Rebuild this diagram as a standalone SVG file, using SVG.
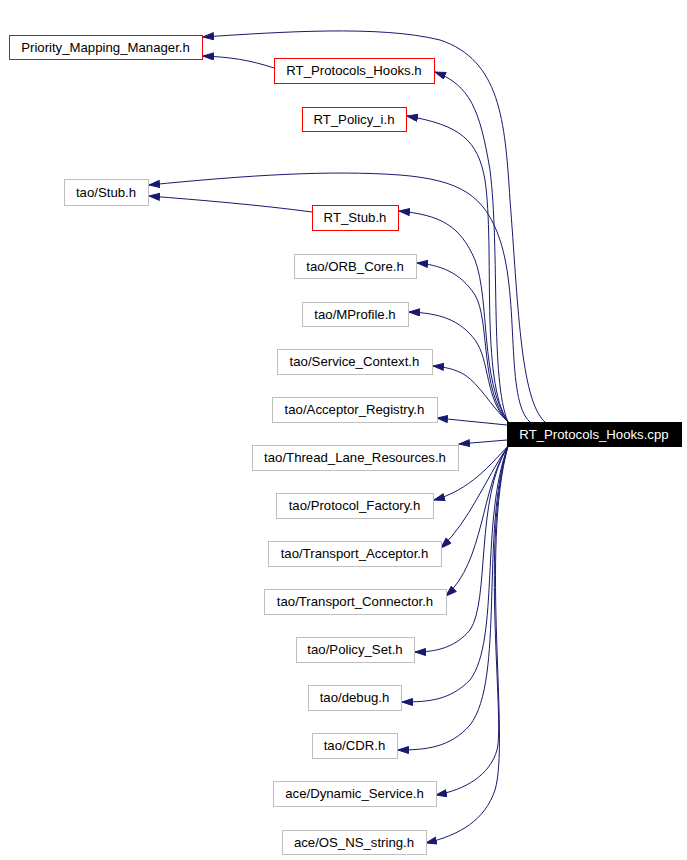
<svg xmlns="http://www.w3.org/2000/svg" width="687" height="860" viewBox="0 0 687 860">
<style>
.n rect{fill:#fff;stroke:#bfbfbf;stroke-width:1;shape-rendering:crispEdges}
.n.r rect{stroke:#ff0000}
.n text{font-family:"Liberation Sans",Arial,sans-serif;font-size:13.2px;fill:#000;text-anchor:middle}
#cpp rect{fill:#000;stroke:#000}
#cpp text{fill:#fff}
.e path{fill:none;stroke:#191970;stroke-width:1;marker-end:url(#ah)}
</style>
<defs>
<marker id="ah" markerUnits="userSpaceOnUse" markerWidth="12" markerHeight="9" refX="11" refY="4" orient="auto">
<path d="M0.5,0.5 L11,4 L0.5,7.5 z" fill="#191970" stroke="#191970"/>
</marker>
</defs>
<rect width="687" height="860" fill="#fff"/>
<g id="connectors" class="e">
<path d="M545,422 C520,400 518,300 510,200 C505,120 500,60 440,40 C380,25 280,32 203,37"/>
<path d="M274,68 C250,60 230,57 203,56"/>
<path d="M508,422 C490,380 500,250 490,170 C480,110 470,85 435,72"/>
<path d="M508,422 C480,380 495,250 485,180 C478,140 460,125 407,116"/>
<path d="M530,422 C505,400 520,300 500,240 C485,195 460,180 400,175 C330,170 250,175 149,185"/>
<path d="M312,212 C260,205 200,200 149,196"/>
<path d="M508,422 C480,380 490,300 475,260 C460,225 440,215 399,211"/>
<path d="M508,422 C480,390 490,320 475,295 C460,272 440,265 417,263"/>
<path d="M508,422 C485,400 490,360 475,340 C460,320 440,313 409,312"/>
<path d="M508,422 C490,405 480,385 465,375 C455,369 445,367 433,366"/>
<path d="M507,425 L437,418"/>
<path d="M507,440 L459,444"/>
<path d="M508,446 C490,465 470,490 434,500"/>
<path d="M508,446 C485,480 470,520 441,548"/>
<path d="M508,446 C480,490 485,560 446,596"/>
<path d="M508,446 C475,500 490,600 470,630 C455,648 435,652 415,652"/>
<path d="M508,446 C480,520 500,640 470,680 C450,700 430,702 402,702"/>
<path d="M508,446 C480,530 505,680 470,725 C450,748 425,750 398,750"/>
<path d="M508,446 C480,540 505,720 497,750 C490,775 465,790 436,795"/>
<path d="M508,446 C480,550 510,740 495,790 C485,820 460,835 426,843"/>
</g>
<g id="cpp" class="n"><rect x="507" y="422" width="174" height="24"/><text x="594" y="439">RT_Protocols_Hooks.cpp</text></g>
<g id="pmm" class="n r"><rect x="9" y="35" width="193" height="24"/><text x="105.5" y="52">Priority_Mapping_Manager.h</text></g>
<g id="rtph" class="n r"><rect x="274" y="58" width="160" height="25"/><text x="354" y="75">RT_Protocols_Hooks.h</text></g>
<g id="rtpi" class="n r"><rect x="302" y="107" width="104" height="24"/><text x="354" y="124">RT_Policy_i.h</text></g>
<g id="stub" class="n"><rect x="64" y="179" width="84" height="26"/><text x="106" y="197">tao/Stub.h</text></g>
<g id="rtstub" class="n r"><rect x="312" y="205" width="86" height="25"/><text x="355" y="222">RT_Stub.h</text></g>
<g id="orb" class="n"><rect x="294" y="254" width="122" height="24"/><text x="355" y="271">tao/ORB_Core.h</text></g>
<g id="mprof" class="n"><rect x="302" y="302" width="106" height="24"/><text x="355" y="319">tao/MProfile.h</text></g>
<g id="svc" class="n"><rect x="277" y="349" width="155" height="25"/><text x="354.5" y="366">tao/Service_Context.h</text></g>
<g id="acc" class="n"><rect x="272" y="397" width="165" height="25"/><text x="354.5" y="414">tao/Acceptor_Registry.h</text></g>
<g id="tlr" class="n"><rect x="252" y="445" width="206" height="25"/><text x="355" y="462">tao/Thread_Lane_Resources.h</text></g>
<g id="pf" class="n"><rect x="276" y="493" width="157" height="25"/><text x="354.5" y="510">tao/Protocol_Factory.h</text></g>
<g id="ta" class="n"><rect x="268" y="541" width="173" height="25"/><text x="354.5" y="558">tao/Transport_Acceptor.h</text></g>
<g id="tc" class="n"><rect x="264" y="589" width="182" height="25"/><text x="355" y="606">tao/Transport_Connector.h</text></g>
<g id="ps" class="n"><rect x="296" y="637" width="118" height="25"/><text x="355" y="654">tao/Policy_Set.h</text></g>
<g id="dbg" class="n"><rect x="308" y="685" width="93" height="25"/><text x="354.5" y="702">tao/debug.h</text></g>
<g id="cdr" class="n"><rect x="312" y="733" width="85" height="25"/><text x="354.5" y="750">tao/CDR.h</text></g>
<g id="ds" class="n"><rect x="273" y="781" width="163" height="25"/><text x="354.5" y="798">ace/Dynamic_Service.h</text></g>
<g id="osns" class="n"><rect x="282" y="830" width="144" height="24"/><text x="354" y="847">ace/OS_NS_string.h</text></g>
</svg>
